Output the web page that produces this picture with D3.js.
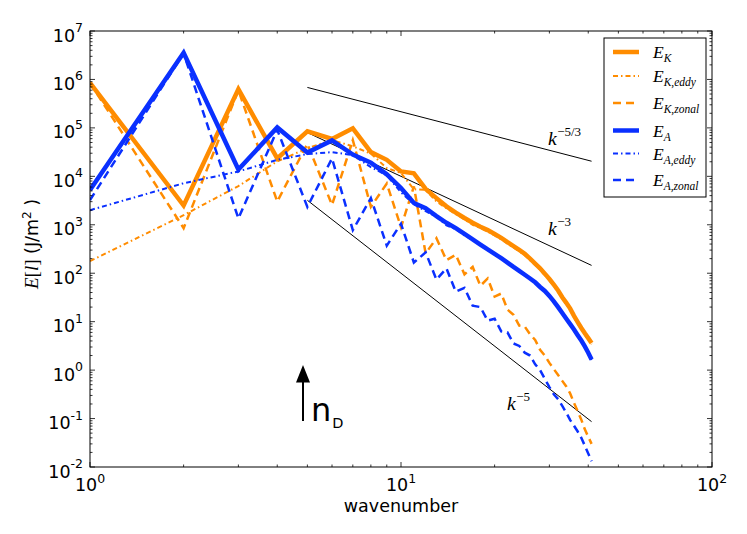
<!DOCTYPE html>
<html><head><meta charset="utf-8">
<script src="https://cdn.jsdelivr.net/npm/d3@7"></script>
<style>body{margin:0;background:#fff}svg{display:block}</style>
</head><body>
<svg id="c" width="747" height="534"></svg>
<script>
// ---------------- data ----------------
const wavenumber = [1,2,3,4,5,6,7,8,9,10,11,12,13,14,15,16,17,18,19,20,21,22,23,24,25,26,27,28,29,30,31,32,33,34,35,36,37,38,39,40,41];

const EK = [8.5e5,2.5e3,6.3e5,2.35e4,8.5e4,5.9e4,9.8e4,3.16e4,2.19e4,1.26e4,1.15e4,5.5e3,3.55e3,2.4e3,1.78e3,1.38e3,1.1e3,912,776,646,537,437,363,302,251,200,158,126,98,76,58,44,32,24.5,18.6,13.2,9.8,7.4,5.75,4.57,3.63];
const EKeddy = [178,1.58e3,6.3e3,2.04e4,3.8e4,5.6e4,4.17e4,2.95e4,1.48e4,1.17e4,5.4e3,5.25e3,3.02e3,2.19e3,1.66e3,1.29e3,1.0e3,851,724,603,501,407,339,282,234,186,148,117,91,71,54,41,30,23,17.4,12.3,9.1,6.9,5.4,4.27,3.39];
const EKzonal = [8.5e5,851,6.0e5,3.02e3,4.68e4,2.57e3,5.6e4,2.34e3,7.1e3,891,6.2e3,257,525,186,240,95,135,55,78,33,38,17.8,13.8,8.3,7.9,5.5,4.2,2.63,2.0,1.41,1.05,0.79,0.60,0.46,0.33,0.21,0.141,0.095,0.060,0.042,0.030];
const EA = [5.25e3,3.55e6,1.38e4,1.02e5,3.09e4,5.5e4,2.82e4,1.91e4,1.1e4,5.75e3,2.82e3,2.19e3,1.51e3,1.1e3,851,646,501,389,309,251,204,166,135,112,93,78,65,52,43,34,26.3,20,15.1,11.5,8.9,6.9,5.25,4.07,3.09,2.29,1.66];
const EAeddy = [2.0e3,7.2e3,1.26e4,2.19e4,2.88e4,3.16e4,2.75e4,1.55e4,1.05e4,4.68e3,2.63e3,1.91e3,1.45e3,977,813,603,490,380,302,245,200,162,132,110,91,76,63,51,42,33,25.7,19.5,14.8,11.2,8.7,6.8,5.1,3.98,3.02,2.24,1.62];
const EAzonal = [3.24e3,3.47e6,1.35e3,9.1e4,2.34e3,2.34e4,776,3.55e3,372,1.05e3,166,269,74,126,41.7,50,21.4,20,10.5,11.5,6.3,6.0,3.55,3.16,2.29,2.0,1.32,1.0,0.66,0.447,0.316,0.251,0.182,0.132,0.093,0.071,0.054,0.040,0.0275,0.019,0.0132];

// reference power-law lines (end points)
const refK = [5, 41];
const refKm53 = [6.84e5, 2.05e4];
const refKm3 = [8.0e4, 145];
const refKm5 = [3.2e3, 0.0863];

const xTickExps = [0,1,2];
const yTickExps = [-2,-1,0,1,2,3,4,5,6,7];

// ---------------- layout ----------------
const L=90, R=712, T=31, B=467;
const ORANGE="#ff8c00", BLUE="#0a30ff";
const SANS="'DejaVu Sans', sans-serif", SERIF="'Liberation Serif', 'DejaVu Serif', serif";

const svg = d3.select("#c");
svg.append("rect").attr("width",747).attr("height",534).attr("fill","#fff");

const x = d3.scaleLog().domain([1,100]).range([L,R]);
const y = d3.scaleLog().domain([1e-2,1e7]).range([B,T]);

svg.append("clipPath").attr("id","clip").append("rect")
  .attr("x",L).attr("y",T).attr("width",R-L).attr("height",B-T);

const series = [
  {vals:EK, color:ORANGE, w:4.5, dash:null, label:"K"},
  {vals:EKeddy, color:ORANGE, w:2, dash:"5,3,1.5,3", label:"K,eddy"},
  {vals:EKzonal, color:ORANGE, w:2.5, dash:"8,5", label:"K,zonal"},
  {vals:EA, color:BLUE, w:4.5, dash:null, label:"A"},
  {vals:EAeddy, color:BLUE, w:2, dash:"5,3,1.5,3", label:"A,eddy"},
  {vals:EAzonal, color:BLUE, w:2.5, dash:"8,5", label:"A,zonal"}
];

const line = d3.line().x((d,i)=>x(wavenumber[i])).y(d=>y(d));
const g = svg.append("g").attr("clip-path","url(#clip)");

// reference lines
const refLine = d3.line().x((d,i)=>x(refK[i])).y(d=>y(d));
[refKm53, refKm3, refKm5].forEach(r=>{
  g.append("path").attr("d",refLine(r)).attr("fill","none")
   .attr("stroke","#000").attr("stroke-width",1);
});

series.forEach(s=>{
  g.append("path").attr("d",line(s.vals)).attr("fill","none")
   .attr("stroke",s.color).attr("stroke-width",s.w)
   .attr("stroke-dasharray",s.dash).attr("stroke-linejoin","miter");
});

// ---------------- axes ----------------
const ax = svg.append("g");
function decadeTicks(lo, hi){
  const maj=[], min=[];
  for(let e=lo;e<=hi;e++){
    maj.push(Math.pow(10,e));
    if(e<hi) for(let m=2;m<=9;m++) min.push(m*Math.pow(10,e));
  }
  return {maj,min};
}
const xt = decadeTicks(0,2), yt = decadeTicks(-2,7);
function tick(x1,y1,x2,y2){
  ax.append("line").attr("x1",x1).attr("y1",y1).attr("x2",x2).attr("y2",y2)
    .attr("stroke","#000").attr("stroke-width",0.8);
}
xt.maj.forEach(v=>{const p=x(v); tick(p,B,p,B-5); tick(p,T,p,T+5);});
xt.min.forEach(v=>{const p=x(v); tick(p,B,p,B-2.5); tick(p,T,p,T+2.5);});
yt.maj.forEach(v=>{const p=y(v); tick(L,p,L+5,p); tick(R,p,R-5,p);});
yt.min.forEach(v=>{const p=y(v); tick(L,p,L+2.5,p); tick(R,p,R-2.5,p);});

ax.append("rect").attr("x",L).attr("y",T).attr("width",R-L).attr("height",B-T)
  .attr("fill","none").attr("stroke","#000").attr("stroke-width",1);

// tick labels
xTickExps.forEach(e=>{
  const t = svg.append("text").attr("x",x(Math.pow(10,e))).attr("y",491)
    .attr("text-anchor","middle").attr("font-family",SANS).attr("font-size",17.5);
  t.append("tspan").text("10");
  t.append("tspan").attr("font-size",12.5).attr("dy",-8).text(e);
});
yTickExps.forEach(e=>{
  const t = svg.append("text").attr("x",83).attr("y",y(Math.pow(10,e))+10.5)
    .attr("text-anchor","end").attr("font-family",SANS).attr("font-size",17.5);
  t.append("tspan").text("10");
  t.append("tspan").attr("font-size",12.5).attr("dy",-9.5).text(e);
});

// axis labels
svg.append("text").attr("x",(L+R)/2).attr("y",512).attr("text-anchor","middle")
  .attr("font-family",SANS).attr("font-size",17.5).text("wavenumber");

const yl = svg.append("text").attr("transform","translate(38,244) rotate(-90)")
  .attr("text-anchor","middle").attr("font-family",SANS).attr("font-size",17.5);
yl.append("tspan").attr("font-family",SERIF).attr("font-size",19).attr("font-style","italic").text("E");
yl.append("tspan").attr("font-family",SERIF).attr("font-size",19).text("[");
yl.append("tspan").attr("font-family",SERIF).attr("font-size",19).attr("font-style","italic").text("l");
yl.append("tspan").attr("font-family",SERIF).attr("font-size",19).text("]");
yl.append("tspan").text(" (J/m");
yl.append("tspan").attr("font-size",12).attr("dy",-7).text("2");
yl.append("tspan").attr("dy",7).text(" )");

// power-law labels
function kLabel(px,py,exp){
  const t = svg.append("text").attr("x",px).attr("y",py).attr("font-family",SERIF).attr("font-size",19.5);
  t.append("tspan").attr("font-style","italic").text("k");
  t.append("tspan").attr("font-size",13).attr("dy",-9.5).attr("dx",0.5).text(exp);
}
kLabel(548,145,"\u22125/3");
kLabel(548,235,"\u22123");
kLabel(507,410,"\u22125");

// arrow n_D
svg.append("line").attr("x1",303).attr("y1",421).attr("x2",303).attr("y2",380)
  .attr("stroke","#000").attr("stroke-width",2);
svg.append("path").attr("d","M303,365 L296,382.5 L310,382.5 Z").attr("fill","#000");
const nd = svg.append("text").attr("x",311).attr("y",421).attr("font-family",SANS).attr("font-size",32);
nd.append("tspan").text("n");
nd.append("tspan").attr("font-size",14.5).attr("dy",6.5).attr("dx",1).text("D");

// ---------------- legend ----------------
const lg = svg.append("g");
lg.append("rect").attr("x",604).attr("y",38).attr("width",102).attr("height",159)
  .attr("fill","#fff").attr("stroke","#000").attr("stroke-width",1);
const legY = [52, 76, 103, 130.5, 153.5, 180];
series.forEach((s,i)=>{
  const ly = legY[i];
  lg.append("line").attr("x1",613).attr("x2",639).attr("y1",ly).attr("y2",ly)
    .attr("stroke",s.color).attr("stroke-width",s.w).attr("stroke-dasharray",s.dash);
  const t = lg.append("text").attr("x",653).attr("y",ly+6).attr("font-family",SERIF)
    .attr("font-size",17.5).attr("font-style","italic");
  t.append("tspan").text("E");
  t.append("tspan").attr("font-size",11.5).attr("dy",4).text(s.label);
});
</script>
</body></html>
